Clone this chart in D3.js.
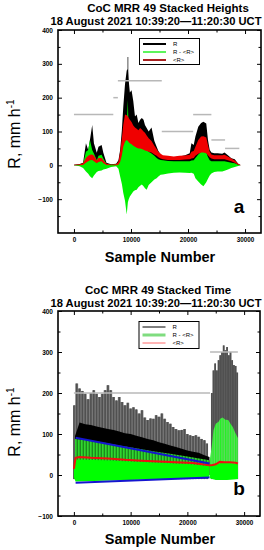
<!DOCTYPE html>
<html><head><meta charset="utf-8">
<script src="https://cdn.jsdelivr.net/npm/d3@7"></script>
<style>body{margin:0;background:#fff}svg{display:block;font-family:"Liberation Sans",Arial,sans-serif}</style>
</head><body><svg id="c" width="264" height="550"></svg>
<script>
// ---------- Panel a: Stacked Heights ----------
const sA = [0,1000,1600,2100,2500,2800,3200,3500,4000,4300,
  4850,5150,5700,6500,7400,7800,8100,8400,8650,8950,
  9250,9450,9600,9800,10100,10400,10700,11000,11300,11600,
  11900,12200,12450,12750,13100,13600,14100,14500,14800,15200,
  15600,16500,17500,18500,19500,20300,20600,21000,21300,21800,
  22300,22700,23200,23500,23800,24100,24600,25200,26000,26400,
  27000,27600,28200,28800,29200];
const rA = [2,4,8,65,45,75,119,65,37,55,
  60,37,8,3,5,15,45,104,173,240,
  280,285,250,215,222,190,144,150,125,135,
  140,135,119,110,100,112,72,55,42,32,
  26,25,24,26,30,36,65,60,85,114,
  125,129,124,75,46,38,36,36,34,38,
  30,21,18,5,1];
const avgHiA = [2,3,6,22,28,31,32,28,15,22,
  22,15,5,2,3,10,40,80,120,150,
  148,145,140,135,128,118,112,108,104,110,
  106,100,96,88,80,72,58,48,40,34,
  30,28,26,28,29,31,40,42,55,75,
  85,86,82,60,40,32,30,30,30,31,
  26,20,14,5,1];
const avgLoA = [0,0,1,8,12,15,16,12,6,10,
  12,6,1,0,0,2,10,30,55,70,
  75,72,68,65,62,58,55,52,50,50,
  48,46,44,42,40,38,32,28,24,20,
  18,16,16,16,17,18,20,22,28,34,
  38,38,36,30,24,20,18,18,18,18,
  15,12,8,2,0];
const devTopA = [1,2,5,40,45,75,45,35,15,28,
  31,20,4,2,3,8,25,50,70,85,
  120,193,90,80,75,70,65,60,55,65,
  58,55,50,45,40,35,28,22,18,16,
  15,13,12,12,12,12,14,15,22,32,
  40,40,38,25,15,12,12,12,12,12,
  10,8,6,2,0];
const devBotA = [0,-3,-8,-18,-25,-32,-38,-30,-20,-17,
  -15,-12,-10,-5,-3,-10,-33,-55,-82,-105,
  -145,-110,-100,-92,-85,-77,-74,-72,-65,-60,
  -57,-62,-68,-72,-58,-50,-42,-38,-33,-28,
  -27,-24,-22,-21,-22,-23,-22,-25,-38,-48,
  -57,-62,-50,-40,-30,-24,-20,-18,-18,-16,
  -12,-8,-5,-2,0];
const spikeS = [9450];
const spikeV = [320];
const segStartA = [0,6900,7700,15400,20900,24100,26500];
const segEndA   = [6900,7700,15400,20900,24100,26500,29000];
const segValA   = [150,200,250,100,150,75,50];

// ---------- Panel b: Stacked Time ----------
const grayS1 = [0,500,1000,1500,2000,2500,3000,3500,4000,4500,5000,5500,6000,6500,7000,7500,8000,8500,9000,9500,
  10000,10500,11000,11500,12000,12500,13000,13500,14000,14500,15000,15500,16000,16500,17000,17500,18000,18500,19000,19500,
  20000,20500,21000,21500,22000,22500,23000,23500];
const grayV1 = [170,223,211,205,198,185,200,207,198,190,198,207,219,207,190,182,190,178,170,176,
  162,165,160,150,158,140,134,138,137,146,142,150,137,129,125,117,112,109,110,112,
  100,97,95,97,93,88,85,77];
const grayS2 = [24300,24600,24900,25200,25500,25800,26100,26400,26700,27000,27300,27600,27900,28200,28500,28800];
const grayV2 = [200,255,272,255,280,292,300,316,304,312,292,300,280,268,266,250];
const blackS = [200,1000,2000,3000,4000,5000,6000,7000,8000,9000,10000,11000,12000,13000,14000,15000,16000,17000,18000,19000,20000,21000,22000,23000,23900];
const blackV = [95,128,124,122,118,115,112,110,106,102,100,96,92,88,85,80,76,72,68,64,60,57,54,48,44];
const stripeS1 = [200,2000,5000,8000,11000,14000,17000,20000,23900];
const stripeV1 = [88,86,80,72,65,58,52,45,36];
const stripeS2 = [24000,24300,24600,25000,25500,25800,26200,26700,27200,27600,28000,28500,28900];
const stripeV2 = [40,70,109,125,130,137,140,135,134,125,117,101,90];
const brightS1 = [0,300,5000,10000,15000,20000,23900];
const brightHi1 = [12,38,36,33,30,27,22];
const brightLo1 = [-6,-16,-14,-12,-10,-8,-6];
const brightS2 = [24000,25000,26000,27000,28000,28900];
const brightHi2 = [22,25,30,30,28,26];
const brightLo2 = [-8,-12,-12,-12,-11,-10];
const avgS_B = [0,300,1000,3000,6000,9000,12000,15000,18000,21000,23900,24300,25000,25700,26500,27500,28500,28900];
const avgV_B = [15,42,44,42,40,37,35,33,31,29,24,24,26,32,31,31,30,28];
const trendS = [300,23900];
const trendHi = [91,28];
const trendLo = [-19,-6];
const segStartB = [0,24000];
const segEndB = [24000,28900];
const segValB = [200,300];

const xTicks = [0,10000,20000,30000];
const xMinor = [5000,15000,25000];
const yTicksA = [-100,0,100,200,300,400];
const yTicksB = [-100,0,100,200,300,400];
const legendLabels = ["R","R - <R>","<R>"];

const svg = d3.select("#c");
const F = '"Liberation Sans",Arial,sans-serif';

function frameAxes(g, x, y, yTicks, yMinor, title1, title2, t1x, t2x, t1y, letter, lblY, xlY, letY) {
  const [l, r] = x.range(); const [b, t] = y.range();
  const ax = (gen, tr) => g.append("g").attr("transform", tr).call(gen);
  const bottom = ax(d3.axisBottom(x).tickValues(xTicks).tickFormat(d3.format("d")).tickSizeInner(-4).tickSizeOuter(0).tickPadding(5), `translate(0,${b})`);
  ax(d3.axisBottom(x).tickValues(xMinor).tickFormat("").tickSizeInner(-2.5).tickSizeOuter(0), `translate(0,${b})`);
  ax(d3.axisTop(x).tickValues(xTicks).tickFormat("").tickSizeInner(-4).tickSizeOuter(0), `translate(0,${t})`);
  ax(d3.axisTop(x).tickValues(xMinor).tickFormat("").tickSizeInner(-2.5).tickSizeOuter(0), `translate(0,${t})`);
  const left = ax(d3.axisLeft(y).tickValues(yTicks).tickFormat(d3.format("d")).tickSizeInner(-4).tickSizeOuter(0).tickPadding(5), `translate(${l},0)`);
  ax(d3.axisLeft(y).tickValues(yMinor).tickFormat("").tickSizeInner(-2.5).tickSizeOuter(0), `translate(${l},0)`);
  ax(d3.axisRight(y).tickValues(yTicks).tickFormat("").tickSizeInner(-4).tickSizeOuter(0), `translate(${r},0)`);
  ax(d3.axisRight(y).tickValues(yMinor).tickFormat("").tickSizeInner(-2.5).tickSizeOuter(0), `translate(${r},0)`);
  g.selectAll(".domain").remove();
  g.selectAll(".tick line").attr("stroke", "#000").attr("stroke-width", 1);
  bottom.selectAll("text").attr("font-size", 6.3).attr("font-weight", "bold").attr("font-family", F);
  left.selectAll("text").attr("font-size", 6.5).attr("font-weight", "bold").attr("font-family", F);
  g.append("rect").attr("x", l).attr("y", t).attr("width", r - l).attr("height", b - t)
    .attr("fill", "none").attr("stroke", "#000").attr("stroke-width", 1.6);
  g.append("text").attr("x", t1x).attr("y", t1y).attr("text-anchor", "middle").attr("font-size", 11.5)
    .attr("font-weight", "bold").text(title1);
  g.append("text").attr("x", t2x).attr("y", t1y + 12.6).attr("text-anchor", "middle").attr("font-size", 11.2)
    .attr("font-weight", "bold").text(title2);
  const yl = g.append("text").attr("transform", `translate(20,${lblY}) rotate(-90)`).attr("text-anchor", "middle")
    .attr("font-size", 16);
  yl.append("tspan").text("R, mm h");
  yl.append("tspan").attr("font-size", 10).attr("dy", -6).text("-1");
  g.append("text").attr("x", 160).attr("y", xlY).attr("text-anchor", "middle").attr("font-size", 14.5)
    .attr("font-weight", "bold").text("Sample Number");
  g.append("text").attr("x", 239).attr("y", letY).attr("text-anchor", "middle").attr("font-size", 19)
    .attr("font-weight", "bold").text(letter);
}

function legend(g, x0, y0, w, h, styles) {
  g.append("rect").attr("x", x0).attr("y", y0).attr("width", w).attr("height", h)
    .attr("fill", "#fff").attr("stroke", "#000").attr("stroke-width", 1);
  legendLabels.forEach((lab, i) => {
    const yy = y0 + 5.5 + i * 8;
    g.append("line").attr("x1", x0 + 3.5).attr("x2", x0 + 26.5).attr("y1", yy).attr("y2", yy)
      .attr("stroke", styles[i].c).attr("stroke-width", styles[i].w);
    g.append("text").attr("x", x0 + 33.5).attr("y", yy + 2).attr("font-size", 6).text(lab);
  });
}

// ---------------- Panel a ----------------
{
  const x = d3.scaleLinear().domain([-2800, 32800]).range([58, 261]);
  const y = d3.scaleLinear().domain([-200, 400]).range([233, 30]);
  const g = svg.append("g");
  const idx = d3.range(sA.length);
  spikeS.forEach((s, i) => g.append("line").attr("x1", x(s)).attr("x2", x(s)).attr("y1", y(0)).attr("y2", y(spikeV[i]))
    .attr("stroke", "#7a7a7a").attr("stroke-width", 1.3));
  g.append("path").datum(idx).attr("fill", "#000")
    .attr("d", d3.area().x(i => x(sA[i])).y0(y(0)).y1(i => y(rA[i])));
  g.append("path").datum(idx).attr("fill", "#00f000")
    .attr("d", d3.area().x(i => x(sA[i])).y0(i => y(devBotA[i])).y1(i => y(devTopA[i])));
  g.append("path").datum(idx).attr("fill", "#f00000")
    .attr("d", d3.area().x(i => x(sA[i])).y0(i => y(avgLoA[i])).y1(i => y(avgHiA[i])));
  segValA.forEach((v, i) => g.append("line").attr("x1", x(segStartA[i])).attr("x2", x(segEndA[i]))
    .attr("y1", y(v)).attr("y2", y(v)).attr("stroke", "#b8b8b8").attr("stroke-width", 1.5));
  frameAxes(g, x, y, yTicksA, [-150,-50,50,150,250,350], "CoC MRR 49 Stacked Heights",
    "18 August 2021 10:39:20\u201411:20:30 UCT", 168, 156, 12, "a", 134, 262, 213);
  legend(g, 139.5, 38.5, 60, 26, [{c:"#000",w:2},{c:"#5cf55c",w:2},{c:"#a82020",w:2}]);
}

// ---------------- Panel b ----------------
{
  const x = d3.scaleLinear().domain([-2800, 32800]).range([58, 260]);
  const y = d3.scaleLinear().domain([-100, 400]).range([516, 311]);
  const g = svg.append("g");
  const defs = svg.append("defs");
  const p1 = defs.append("pattern").attr("id", "st1").attr("patternUnits", "userSpaceOnUse").attr("width", 3).attr("height", 10);
  p1.append("rect").attr("width", 3).attr("height", 10).attr("fill", "#1c8a1c");
  p1.append("rect").attr("width", 1.6).attr("height", 10).attr("fill", "#2fd62f");
  const p2 = defs.append("pattern").attr("id", "st2").attr("patternUnits", "userSpaceOnUse").attr("width", 2.5).attr("height", 10);
  p2.append("rect").attr("width", 2.5).attr("height", 10).attr("fill", "#5fd95f");
  p2.append("rect").attr("width", 1.2).attr("height", 10).attr("fill", "#22f022");

  const areaOf = (xs, lo, hi) => d3.area().x(i => x(xs[i])).y0(i => y(typeof lo === "number" ? lo : lo[i])).y1(i => y(hi[i]));
  const gS = grayS1.concat(grayS2), gV = grayV1.concat(grayV2);
  [[grayS1, grayV1], [grayS2, grayV2]].forEach(([xs, vs]) => {
    g.append("path").datum(d3.range(xs.length)).attr("fill", "#7a7a7a")
      .attr("d", d3.area().curve(d3.curveStep).x(i => x(xs[i])).y0(y(-10)).y1(i => y(vs[i])));
  });
  g.selectAll(".gb").data(d3.range(gS.length)).join("rect")
    .attr("x", i => x(gS[i]) - 0.8).attr("width", 1.6)
    .attr("y", i => y(gV[i])).attr("height", i => y(-10) - y(gV[i])).attr("fill", "#505050");
  g.append("path").datum(d3.range(blackS.length)).attr("fill", "#000")
    .attr("d", areaOf(blackS, 0, blackV));
  g.append("path").datum(d3.range(stripeS1.length)).attr("fill", "url(#st1)")
    .attr("d", areaOf(stripeS1, 0, stripeV1));
  g.append("path").datum(d3.range(stripeS2.length)).attr("fill", "url(#st2)")
    .attr("d", areaOf(stripeS2, -8, stripeV2));
  g.append("path").datum(d3.range(brightS1.length)).attr("fill", "#00ff00")
    .attr("d", areaOf(brightS1, brightLo1, brightHi1));
  g.append("path").datum(d3.range(brightS2.length)).attr("fill", "#00ff00")
    .attr("d", areaOf(brightS2, brightLo2, brightHi2));
  g.append("path").datum(d3.range(avgS_B.length)).attr("fill", "none").attr("stroke", "#ee1010").attr("stroke-width", 2)
    .attr("d", d3.line().x(i => x(avgS_B[i])).y(i => y(avgV_B[i])));
  [trendHi, trendLo].forEach(tv => g.append("path").datum(d3.range(trendS.length)).attr("fill", "none")
    .attr("stroke", "#1515d0").attr("stroke-width", 2)
    .attr("d", d3.line().x(i => x(trendS[i])).y(i => y(tv[i]))));
  segValB.forEach((v, i) => g.append("line").attr("x1", x(segStartB[i])).attr("x2", x(segEndB[i]))
    .attr("y1", y(v)).attr("y2", y(v)).attr("stroke", "#b8b8b8").attr("stroke-width", 1.5));
  frameAxes(g, x, y, yTicksB, [-50,50,150,250,350], "CoC MRR 49 Stacked Time",
    "18 August 2021 10:39:20\u201411:20:30 UCT", 158, 156, 294, "b", 422, 544, 495);
  legend(g, 139, 321.5, 60, 27, [{c:"#000",w:1},{c:"#7fdc7f",w:3},{c:"#ff6a6a",w:1}]);
}
</script></body></html>
